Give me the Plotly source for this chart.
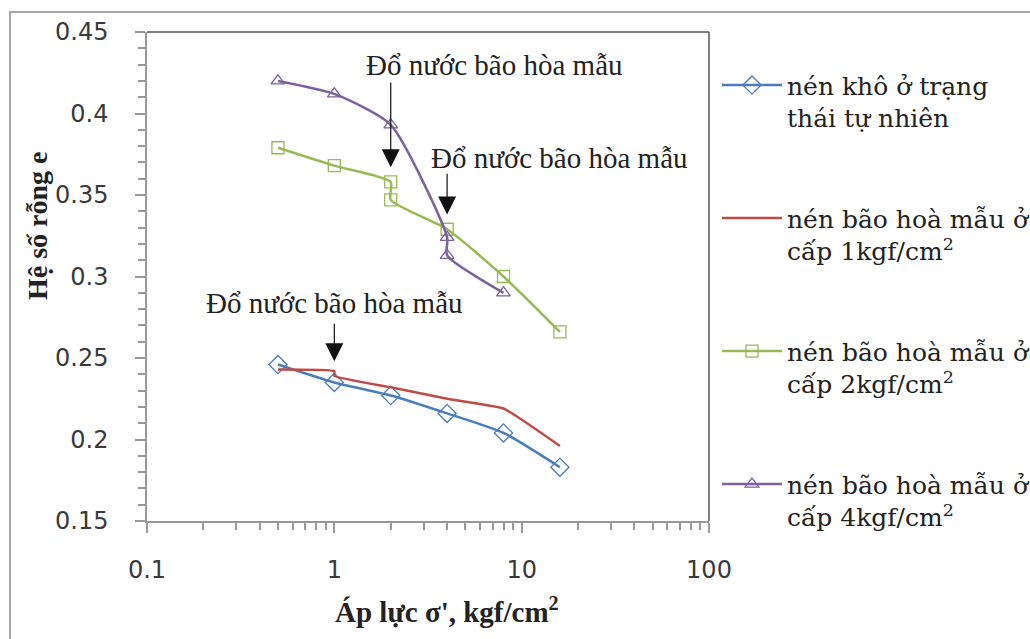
import math
import plotly.graph_objects as go

# ---- data ----
pressure_dry = [0.5, 1, 2, 4, 8, 16]
e_dry = [0.246, 0.235, 0.227, 0.216, 0.204, 0.183]

pressure_sat1 = [0.5, 1, 1, 2, 4, 8, 16]
e_sat1 = [0.243, 0.242, 0.239, 0.232, 0.225, 0.219, 0.196]

pressure_sat2 = [0.5, 1, 2, 2, 4, 8, 16]
e_sat2 = [0.379, 0.368, 0.358, 0.347, 0.329, 0.300, 0.266]

pressure_sat4 = [0.5, 1, 2, 4, 4, 8]
e_sat4 = [0.420, 0.412, 0.393, 0.324, 0.313, 0.290]

series_names = [
    "nén khô ở trạng<br>thái tự nhiên",
    "nén bão hoà mẫu ở<br>cấp 1kgf/cm<sup>2</sup>",
    "nén bão hoà mẫu ở<br>cấp 2kgf/cm<sup>2</sup>",
    "nén bão hoà mẫu ở<br>cấp 4kgf/cm<sup>2</sup>",
]

note_text = "Đổ nước bão hòa mẫu"
arrow_x = [2, 4, 1]
arrow_tail_e = [0.420, 0.364, 0.272]
arrow_tip_e = [0.367, 0.338, 0.248]
note_x = [7.2, 16.0, 1.0]
note_e = [0.4295, 0.3726, 0.2838]

x_ticks = [0.1, 1, 10, 100]
x_ticklabels = ["0.1", "1", "10", "100"]
y_ticks = [0.15, 0.2, 0.25, 0.3, 0.35, 0.4, 0.45]
y_ticklabels = ["0.15", "0.2", "0.25", "0.3", "0.35", "0.4", "0.45"]

x_title = "Áp lực σ', kgf/cm<sup>2</sup>"
y_title = "Hệ số rỗng e"

# ---- styles ----
BLUE = "#4A7EBB"
RED = "#BE4B48"
GREEN = "#98B954"
PURPLE = "#7D60A0"
SERIF = "Liberation Serif"

fig = go.Figure()

def add_series(x, y, name, color, symbol, size, group, smoothing):
    fig.add_trace(go.Scatter(
        x=x, y=y, name=name, legendgroup=group,
        mode="lines+markers" if symbol else "lines",
        line=dict(color=color, width=2.5, shape="spline", smoothing=smoothing),
        marker=dict(symbol=symbol, size=size, color=color,
                    line=dict(color=color, width=1.3)) if symbol else None,
    ))

add_series(pressure_dry, e_dry, series_names[0], BLUE, "diamond-open", 14, "g1", 0.6)
add_series(pressure_sat1, e_sat1, series_names[1], RED, None, 0, "g2", 0.35)
add_series(pressure_sat2, e_sat2, series_names[2], GREEN, "square-open", 12, "g3", 0.6)
add_series(pressure_sat4, e_sat4, series_names[3], PURPLE, "triangle-up-open", 12, "g4", 0.6)

annotations = []
for xa, yt, ytip in zip(arrow_x, arrow_tail_e, arrow_tip_e):
    annotations.append(dict(
        x=math.log10(xa), y=ytip, xref="x", yref="y",
        ax=math.log10(xa), ay=yt, axref="x", ayref="y",
        text="", showarrow=True, arrowhead=2, arrowsize=3,
        arrowwidth=1.2, arrowcolor="#111111",
    ))
for xn, yn in zip(note_x, note_e):
    annotations.append(dict(
        x=math.log10(xn), y=yn, xref="x", yref="y",
        text=note_text, showarrow=False,
        font=dict(family=SERIF, size=29, color="#222222"),
        xanchor="center", yanchor="middle",
    ))

annotations.append(dict(
    x=0.534, y=-0.182, xref="paper", yref="paper", text="<b>" + x_title + "</b>",
    showarrow=False, font=dict(family=SERIF, size=29, color="#222222"),
    xanchor="center", yanchor="middle",
))
annotations.append(dict(
    x=-0.196, y=0.605, xref="paper", yref="paper", text="<b>" + y_title + "</b>",
    showarrow=False, textangle=-90, font=dict(family=SERIF, size=28, color="#222222"),
    xanchor="center", yanchor="middle",
))

shapes = [
    # outer chart frame
    dict(type="rect", xref="paper", yref="paper", x0=-0.2438, x1=1.6, y0=-0.3, y1=1.041,
         line=dict(color="#A6A6A6", width=2), fillcolor="rgba(0,0,0,0)", layer="below"),
    # plot-area top & right borders
    dict(type="line", xref="paper", yref="paper", x0=0, x1=1, y0=1, y1=1,
         line=dict(color="#555555", width=1.5)),
    dict(type="line", xref="paper", yref="paper", x0=1, x1=1, y0=0, y1=1,
         line=dict(color="#555555", width=1.5)),
]

fig.update_layout(
    width=1030, height=639,
    margin=dict(l=147, r=321, t=32, b=118, autoexpand=False),
    paper_bgcolor="white", plot_bgcolor="white",
    showlegend=True,
    legend=dict(
        x=1.0142, y=0.938, xanchor="left", yanchor="top",
        font=dict(family="DejaVu Serif", size=25, color="#222222"),
        tracegroupgap=65, valign="top", itemwidth=60,
        bgcolor="rgba(0,0,0,0)",
    ),
    annotations=annotations,
    shapes=shapes,
)

fig.update_xaxes(
    type="log", range=[-1, 2],
    tickmode="array", tickvals=x_ticks, ticktext=x_ticklabels,
    ticks="outside", ticklen=10, tickcolor="#999999", tickwidth=1.5,
    showline=True, linecolor="#999999", linewidth=1.5,
    showgrid=False, zeroline=False,
    tickfont=dict(family="DejaVu Sans", size=24, color="#3a3a3a"),
    ticklabelstandoff=16,
    minor=dict(ticks="outside", ticklen=7, tickcolor="#999999", tickwidth=1.5,
               dtick="D1", showgrid=False),
)
fig.update_yaxes(
    range=[0.15, 0.45],
    tickmode="array", tickvals=y_ticks, ticktext=y_ticklabels,
    ticks="outside", ticklen=10, tickcolor="#999999", tickwidth=1.5,
    showline=True, linecolor="#999999", linewidth=1.5,
    showgrid=False, zeroline=False,
    tickfont=dict(family="DejaVu Sans", size=24, color="#3a3a3a"),
    ticklabelstandoff=22,
    minor=dict(ticks="outside", ticklen=7, tickcolor="#999999", tickwidth=1.5,
               dtick=0.01, showgrid=False),
)

fig.write_html("out.html")
